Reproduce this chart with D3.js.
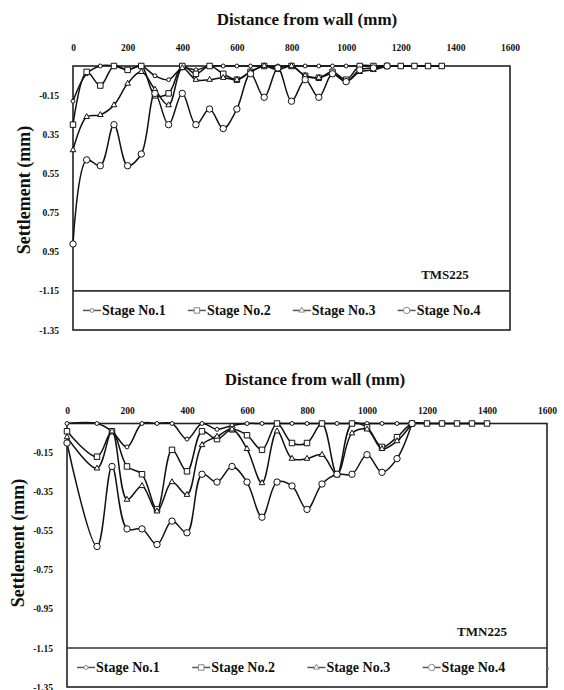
<!DOCTYPE html>
<html>
<head>
<meta charset="utf-8">
<script src="https://cdn.jsdelivr.net/npm/d3@7"></script>
<style>
  body { margin: 0; background: #fff; }
  text { font-family: "Liberation Serif", "Times New Roman", serif; font-weight: bold; fill: #111; }
</style>
</head>
<body>
<div id="chart"></div>
<script>
// ---- data (settlement in mm) ----
var stageNames = ["Stage No.1", "Stage No.2", "Stage No.3", "Stage No.4"];
var xTicks = [0, 200, 400, 600, 800, 1000, 1200, 1400, 1600];
var yTicks = [-0.15, -0.35, -0.55, -0.75, -0.95, -1.15, -1.35];
var tmsYLabels = ["-0.15", "0.35", "0.55", "0.75", "0.95", "-1.15", "-1.35"];
var tmnYLabels = ["-0.15", "-0.35", "-0.55", "-0.75", "-0.95", "-1.15", "-1.35"];

// TMS225
var tmsDistance = [0, 50, 100, 150, 200, 250, 300, 350, 400, 450, 500, 550, 600, 650,
  700, 750, 800, 850, 900, 950, 1000, 1050, 1100, 1150, 1200, 1250, 1300, 1350];
var tmsStage1 = [-0.18, -0.04, 0, 0, -0.02, 0, -0.05, -0.07, -0.01, -0.02, 0, 0, 0, 0,
  0, 0, 0, 0, 0, 0, 0, 0, 0, 0, 0, 0, 0, 0];
var tmsStage2 = [-0.30, -0.03, -0.10, 0, -0.02, 0, -0.15, -0.14, 0, -0.04, 0, -0.04, -0.07, -0.03,
  0, -0.01, 0, -0.05, -0.06, -0.03, -0.07, 0, 0, 0, 0, 0, 0, 0];
var tmsStage3 = [-0.43, -0.26, -0.25, -0.20, -0.09, -0.03, -0.12, -0.20, -0.01, -0.07, -0.07, -0.06, -0.07, -0.03,
  0, -0.02, 0, -0.05, -0.06, -0.04, -0.08, -0.03, -0.02, 0, null, null, null, null];
var tmsStage4 = [-0.91, -0.48, -0.51, -0.30, -0.51, -0.45, -0.14, -0.30, -0.14, -0.30, -0.22, -0.32, -0.22, -0.04,
  -0.16, -0.01, -0.18, -0.07, -0.16, -0.04, -0.08, -0.02, -0.01, 0, null, null, null, null];

// TMN225
var tmnDistance = [0, 50, 100, 150, 200, 250, 300, 350, 400, 450, 500, 550, 600, 650, 700,
  750, 800, 850, 900, 950, 1000, 1050, 1100, 1150, 1200, 1250, 1300, 1350, 1400];
var tmnStage1 = [0, null, 0, -0.04, -0.12, 0, 0, 0, -0.08, 0, -0.03, -0.01, 0, 0, 0,
  0, 0, 0, 0, 0, 0, 0, 0, 0, 0, 0, 0, 0, 0];
var tmnStage2 = [-0.04, null, -0.17, -0.04, -0.22, -0.26, -0.44, -0.135, -0.245, -0.04, -0.08, -0.03, -0.06, -0.135, 0,
  -0.10, -0.10, 0, -0.26, 0, -0.02, -0.12, -0.07, 0, 0, 0, 0, 0, 0];
var tmnStage3 = [-0.07, null, -0.23, -0.04, -0.39, -0.32, -0.45, -0.30, -0.365, -0.11, -0.067, -0.03, -0.13, -0.305, -0.04,
  -0.18, -0.18, -0.16, -0.26, -0.05, -0.03, -0.13, -0.09, 0, null, null, null, null, null];
var tmnStage4 = [-0.10, null, -0.63, -0.22, -0.54, -0.54, -0.62, -0.50, -0.56, -0.26, -0.30, -0.22, -0.30, -0.48, -0.30,
  -0.32, -0.44, -0.31, -0.26, -0.26, -0.16, -0.25, -0.18, 0, null, null, null, null, null];

var width = 564, height = 690;

var svg = d3.select("#chart")
  .append("svg")
  .attr("width", width)
  .attr("height", height);

svg.append("rect").attr("width", width).attr("height", height).attr("fill", "#fff");

// marker per stage
var symbols = [
  d3.symbol().type(d3.symbolCircle).size(12),
  d3.symbol().type(d3.symbolSquare).size(30),
  d3.symbol().type(d3.symbolTriangle).size(14),
  d3.symbol().type(d3.symbolCircle).size(32)
];

function drawPanel(opt) {
  var x = d3.scaleLinear().domain([0, 1600]).range([opt.left, opt.right]);
  var y = d3.scaleLinear().domain([0, -1.35]).range([opt.top, opt.bottom]);
  var g = svg.append("g");
  var w = opt.right - opt.left;

  g.append("text")
    .attr("x", opt.titleX)
    .attr("y", opt.titleY)
    .attr("text-anchor", "middle")
    .style("font-size", "17px")
    .text("Distance from wall (mm)");

  g.append("text")
    .attr("transform", "translate(" + opt.yLabelX + "," + opt.yLabelY + ") rotate(-90)")
    .attr("text-anchor", "middle")
    .attr("dy", "0.35em")
    .style("font-size", "18px")
    .text("Settlement (mm)");

  var xAxis = d3.axisTop(x).tickValues(xTicks).tickSize(0).tickPadding(opt.xPad)
    .tickFormat(d3.format("d"));
  var gx = g.append("g").attr("transform", "translate(0," + opt.top + ")").call(xAxis);
  gx.select(".domain").remove();

  var yAxis = d3.axisLeft(y).tickValues(yTicks).tickSize(0).tickPadding(14)
    .tickFormat(function(d, i) { return opt.yLabels[i]; });
  var gy = g.append("g").attr("transform", "translate(" + opt.left + ",0)").call(yAxis);
  gy.select(".domain").remove();

  g.selectAll(".tick text")
    .style("font-family", "'Liberation Serif', serif")
    .style("font-weight", "bold")
    .style("font-size", "9.5px")
    .attr("fill", "#333");

  // plot box + legend divider at -1.15
  g.append("rect")
    .attr("x", opt.left).attr("y", opt.top)
    .attr("width", w).attr("height", opt.bottom - opt.top)
    .attr("fill", "none").attr("stroke", "#222").attr("stroke-width", 1.6);
  g.append("line")
    .attr("x1", opt.left).attr("x2", opt.right)
    .attr("y1", y(-1.15)).attr("y2", y(-1.15))
    .attr("stroke", "#333").attr("stroke-width", 1.6);

  var line = d3.line()
    .x(function(d) { return x(d.dist); })
    .y(function(d) { return y(d.val); })
    .curve(d3.curveCatmullRom.alpha(0.5));

  opt.series.forEach(function(vals, s) {
    var pts = opt.distance.map(function(d, i) { return { dist: d, val: vals[i] }; })
      .filter(function(p) { return p.val != null; });

    g.append("path")
      .datum(pts)
      .attr("d", line)
      .attr("fill", "none")
      .attr("stroke", "#111")
      .attr("stroke-width", 1.5);

    g.selectAll(".m" + s)
      .data(pts)
      .enter().append("path")
      .attr("class", "m" + s)
      .attr("transform", function(d) { return "translate(" + x(d.dist) + "," + y(d.val) + ")"; })
      .attr("d", symbols[s])
      .attr("fill", "#fff")
      .attr("stroke", "#111")
      .attr("stroke-width", 1);
  });

  // panel tag
  g.append("text")
    .attr("x", opt.right - 65)
    .attr("y", y(-1.15) - 12)
    .attr("text-anchor", "middle")
    .style("font-size", "13px")
    .attr("fill", "#333")
    .text(opt.tag);

  // legend
  var ly = (y(-1.15) + y(-1.35)) / 2;
  var step = w * 0.24;
  var leg = g.selectAll(".leg")
    .data(stageNames)
    .enter().append("g")
    .attr("class", "leg")
    .attr("transform", function(d, i) { return "translate(" + (opt.left + 10 + i * step) + "," + ly + ")"; });

  leg.append("line")
    .attr("x1", 0).attr("x2", 18)
    .attr("stroke", "#555").attr("stroke-width", 1.5);
  leg.append("path")
    .attr("transform", "translate(9,0)")
    .attr("d", function(d, i) { return symbols[i](); })
    .attr("fill", "#fff")
    .attr("stroke", "#888");
  leg.append("text")
    .attr("x", 19)
    .attr("dy", "0.35em")
    .style("font-size", "14px")
    .text(function(d) { return d; });

  if (opt.dot) {
    g.append("circle")
      .attr("cx", opt.left + 10 + 4 * step + 10)
      .attr("cy", ly + 1)
      .attr("r", 1.2)
      .attr("fill", "#777");
  }
}

drawPanel({
  left: 73, right: 510, top: 66, bottom: 330,
  titleX: 307, titleY: 25, yLabelX: 24, yLabelY: 190, xPad: 15,
  yLabels: tmsYLabels, tag: "TMS225",
  distance: tmsDistance,
  series: [tmsStage1, tmsStage2, tmsStage3, tmsStage4],
  dot: false
});

drawPanel({
  left: 67, right: 547, top: 423.5, bottom: 687,
  titleX: 315, titleY: 385, yLabelX: 18, yLabelY: 543, xPad: 10,
  yLabels: tmnYLabels, tag: "TMN225",
  distance: tmnDistance,
  series: [tmnStage1, tmnStage2, tmnStage3, tmnStage4],
  dot: true
});
</script>
</body>
</html>
